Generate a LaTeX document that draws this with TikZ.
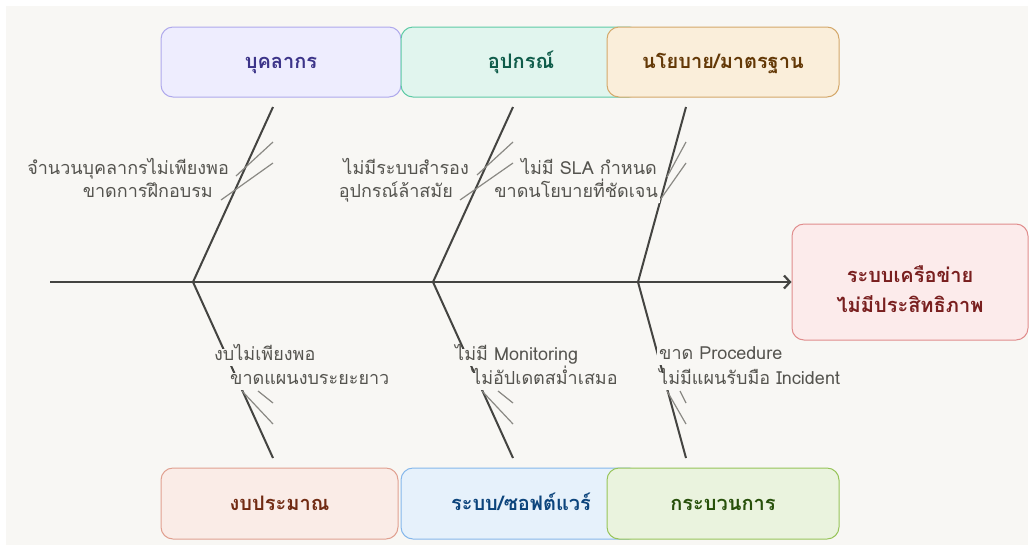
\documentclass[tikz,border=0pt]{standalone}
\usepackage{fontspec}
\newfontfamily\thaifont[Script=Thai]{Loma}
\usetikzlibrary{arrows.meta}
\definecolor{bgc}{HTML}{F8F7F4}
\definecolor{bonec}{HTML}{444441}
\definecolor{subc}{HTML}{8A8984}
\definecolor{labc}{HTML}{55544F}
\definecolor{pplF}{HTML}{EEEDFE}\definecolor{pplD}{HTML}{AFA9EC}\definecolor{pplT}{HTML}{3C3489}
\definecolor{eqF}{HTML}{E1F5EE}\definecolor{eqD}{HTML}{5DCAA5}\definecolor{eqT}{HTML}{0F5C4A}
\definecolor{polF}{HTML}{FAEEDA}\definecolor{polD}{HTML}{D4A86A}\definecolor{polT}{HTML}{633806}
\definecolor{budF}{HTML}{FAECE7}\definecolor{budD}{HTML}{E0A090}\definecolor{budT}{HTML}{712B13}
\definecolor{swF}{HTML}{E6F1FB}\definecolor{swD}{HTML}{85B7EB}\definecolor{swT}{HTML}{0C447C}
\definecolor{prF}{HTML}{EAF3DE}\definecolor{prD}{HTML}{97C459}\definecolor{prT}{HTML}{27500A}
\definecolor{efF}{HTML}{FCEBEB}\definecolor{efD}{HTML}{E08C8C}\definecolor{efT}{HTML}{791F1F}
\tikzset{
  catbox/.style={rounded corners=12pt, line width=1pt, minimum height=70pt, inner sep=0pt,
    text height=14pt, text depth=1pt,
    font=\thaifont\fontsize{20}{24}\selectfont\bfseries},
  bone/.style={draw=bonec, line width=2pt},
  subbone/.style={draw=subc, line width=1.2pt},
  causelab/.style={fill=bgc, text=labc, inner xsep=2pt, inner ysep=0pt, text height=12pt, text depth=5pt,
    font=\thaifont\fontsize{18}{20}\selectfont},
}
\begin{document}
\begin{tikzpicture}[x=1pt,y=-1pt]
\useasboundingbox (0,0) rectangle (1033,547);
\fill[white] (0,0) rectangle (1033,547);
\fill[bgc] (6,6) rectangle (1028,545);
% spine
\coordinate (sp0) at (50,282);
% junctions
\coordinate (jA) at (193,282);
\coordinate (jB) at (433,282);
\coordinate (jC) at (638,282);
% bone ends
\coordinate (tA) at (273,107); \coordinate (bA) at (273,458);
\coordinate (tB) at (513,107); \coordinate (bB) at (513,458);
\coordinate (tC) at (686,107); \coordinate (bC) at (686,458);
\draw[bone] (tA) -- (jA) -- (bA);
\draw[bone] (tB) -- (jB) -- (bB);
\draw[bone] (tC) -- (jC) -- (bC);
% sub bones top
\coordinate (sA1) at (273,142); \coordinate (eA1) at (236,176);
\coordinate (sA2) at (273,163); \coordinate (eA2) at (221,200);
\coordinate (sB1) at (513,142); \coordinate (eB1) at (477,175);
\coordinate (sB2) at (513,163); \coordinate (eB2) at (460,200);
\coordinate (sC1) at (686,142); \coordinate (eC1) at (667,177);
\coordinate (sC2) at (686,163); \coordinate (eC2) at (660,200);
\draw[subbone] (sA1) -- (eA1); \draw[subbone] (sA2) -- (eA2);
\draw[subbone] (sB1) -- (eB1); \draw[subbone] (sB2) -- (eB2);
\draw[subbone] (sC1) -- (eC1); \draw[subbone] (sC2) -- (eC2);
% sub bones bottom
\coordinate (uA1) at (273,403); \coordinate (vA1) at (258,391);
\coordinate (uA2) at (273,424); \coordinate (vA2) at (242,391);
\coordinate (uB1) at (513,403); \coordinate (vB1) at (498,391);
\coordinate (uB2) at (513,424); \coordinate (vB2) at (482,391);
\coordinate (uC1) at (686,403); \coordinate (vC1) at (680,391);
\coordinate (uC2) at (686,424); \coordinate (vC2) at (667,391);
\draw[subbone] (uA1) -- (vA1); \draw[subbone] (uA2) -- (vA2);
\draw[subbone] (uB1) -- (vB1); \draw[subbone] (uB2) -- (vB2);
\draw[subbone] (uC1) -- (vC1); \draw[subbone] (uC2) -- (vC2);
% cause labels top
\node[causelab, anchor=east] (lA1) at (231,171) {จำนวนบุคลากรไม่เพียงพอ};
\node[causelab, anchor=east] (lA2) at (215,194) {ขาดการฝึกอบรม};
\node[causelab, anchor=east] (lB1) at (471,171) {ไม่มีระบบสำรอง};
\node[causelab, anchor=east] (lB2) at (455,194) {อุปกรณ์ล้าสมัย};
\node[causelab, anchor=east] (lC1) at (659,171) {ไม่มี SLA กำหนด};
\node[causelab, anchor=east] (lC2) at (660,194) {ขาดนโยบายที่ชัดเจน};
% cause labels bottom
\node[causelab, anchor=west] (mA1) at (212,357) {งบไม่เพียงพอ};
\node[causelab, anchor=west] (mA2) at (228,381) {ขาดแผนงบระยะยาว};
\node[causelab, anchor=west] (mB1) at (453,357) {ไม่มี Monitoring};
\node[causelab, anchor=west] (mB2) at (470,381) {ไม่อัปเดตสม่ำเสมอ};
\node[causelab, anchor=west] (mC1) at (657,356) {ขาด Procedure};
\node[causelab, anchor=west] (mC2) at (657,381) {ไม่มีแผนรับมือ Incident};
% category boxes
\node[catbox, fill=pplF, draw=pplD, text=pplT, minimum width=240pt] (ppl) at (281,62) {บุคลากร};
\node[catbox, fill=eqF, draw=eqD, text=eqT, minimum width=240pt] (eq) at (521,62) {อุปกรณ์};
\node[catbox, fill=polF, draw=polD, text=polT, minimum width=232pt] (pol) at (723,62) {นโยบาย/มาตรฐาน};
\node[catbox, fill=budF, draw=budD, text=budT, minimum width=237pt, minimum height=71pt] (bud) at (279.5,503.5) {งบประมาณ};
\node[catbox, fill=swF, draw=swD, text=swT, minimum width=240pt, minimum height=71pt] (sw) at (521,503.5) {ระบบ/ซอฟต์แวร์};
\node[catbox, fill=prF, draw=prD, text=prT, minimum width=232pt, minimum height=71pt] (pr) at (723,503.5) {กระบวนการ};
% effect
\node[catbox, fill=efF, draw=efD, text=efT, minimum width=236pt, minimum height=116pt, align=center,
  text height=61pt, text depth=0pt,
  font=\thaifont\fontsize{20}{30}\selectfont\bfseries] (eff) at (910,282) {ระบบเครือข่าย\\ไม่มีประสิทธิภาพ};
\draw[draw=bonec, line width=2.5pt, -{Straight Barb[length=6pt,width=13pt,line width=2.2pt]}] (sp0) -- (eff.west);
\end{tikzpicture}
\end{document}
